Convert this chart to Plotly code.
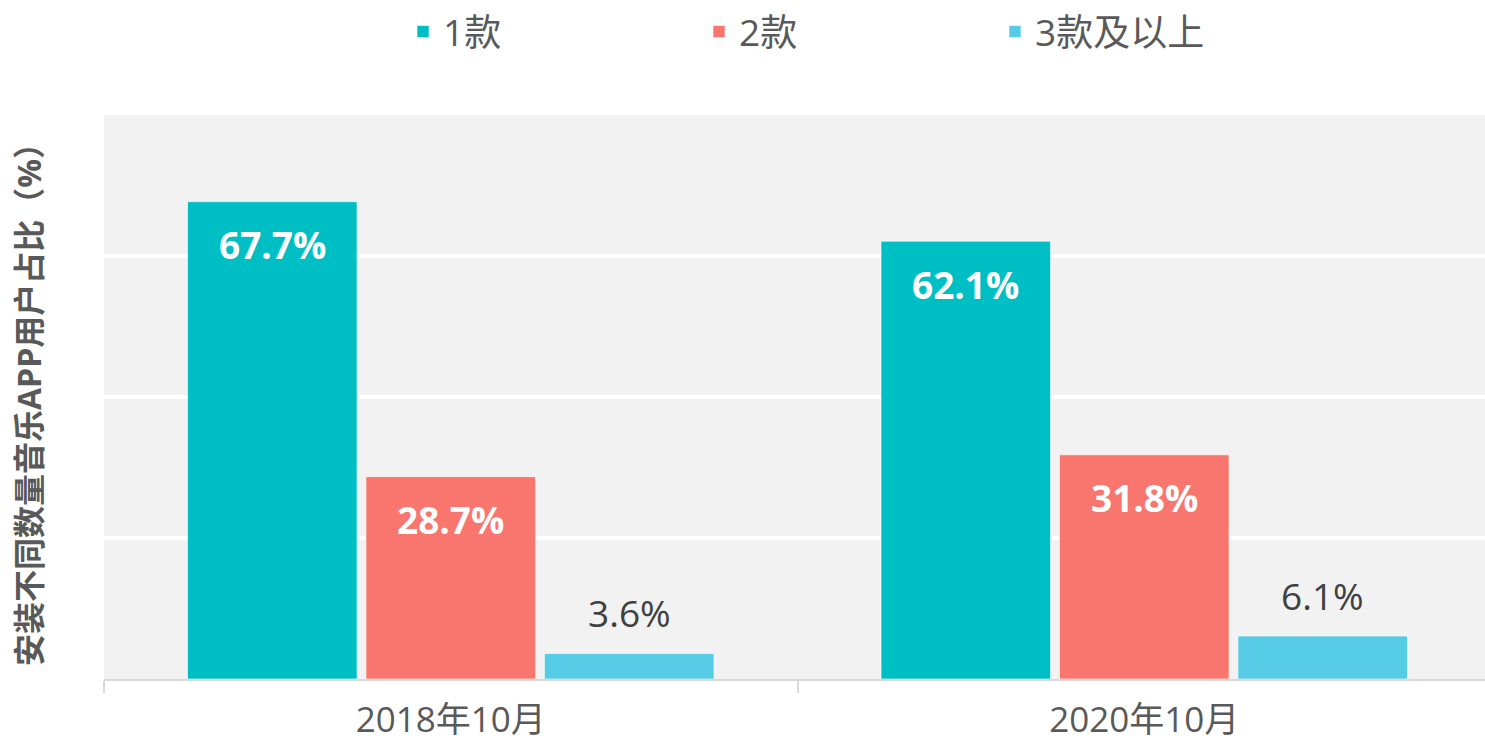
import plotly.graph_objects as go

categories = ["2018年10月", "2020年10月"]
series_names = ["1款", "2款", "3款及以上"]
values_1 = [67.7, 62.1]
values_2 = [28.7, 31.8]
values_3 = [3.6, 6.1]
series_values = [values_1, values_2, values_3]
colors = ["#00BFC4", "#F8766D", "#56CBE6"]

W, H = 1491, 747
ML, MR, MT, MB = 104, 0, 115, 68
BARGAP = 0.228
BARGROUPGAP = 0.05
FONT = "Open Sans, Noto Sans CJK SC, sans-serif"

fig = go.Figure()
for name, vals, col in zip(series_names, series_values, colors):
    fig.add_trace(go.Bar(
        x=categories, y=vals, name=name,
        marker=dict(color=col, line=dict(color="rgba(255,255,255,0.6)", width=1)),
        textposition="none",
    ))

plot_w = W - ML - MR
cat_w = plot_w / len(categories)
slot = cat_w * (1 - BARGAP) / len(series_names)

annotations = []
for i, vals in enumerate(series_values):
    for cat, v in zip(categories, vals):
        inside = v > 10
        annotations.append(dict(
            x=cat, y=v, xref="x", yref="y",
            xshift=(i - (len(series_names) - 1) / 2) * slot,
            yshift=-43 if inside else 41,
            text=f"{v:.1f}%", showarrow=False,
            yanchor="middle", xanchor="center",
            font=dict(family=FONT, size=37,
                      color="white" if inside else "#404040",
                      weight="bold" if inside else "normal"),
        ))

annotations.append(dict(
    x=(28 - ML) / plot_w, xref="paper", y=0.5, yref="paper",
    text="<b>安装不同数量音乐APP用户占比（%）</b>", showarrow=False,
    textangle=-90, font=dict(family=FONT, size=32, color="#595959"),
    xanchor="center", yanchor="middle",
))

fig.update_layout(
    width=W, height=H,
    margin=dict(l=ML, r=MR, t=MT, b=MB, autoexpand=False),
    paper_bgcolor="white",
    plot_bgcolor="#F2F2F2",
    barmode="group", bargap=BARGAP, bargroupgap=BARGROUPGAP,
    font=dict(family=FONT, color="#595959"),
    showlegend=True,
    legend=dict(
        orientation="h", xref="container", yref="container",
        x=403 / W, xanchor="left", y=1 - 32 / H, yanchor="middle",
        font=dict(family=FONT, size=37, color="#595959"),
        entrywidth=251, entrywidthmode="pixels",
        bgcolor="rgba(0,0,0,0)",
    ),
    annotations=annotations,
)
fig.update_xaxes(
    automargin=False,
    showline=True, linecolor="#D9D9D9", linewidth=1.5,
    ticks="outside", tickson="boundaries", ticklen=12, tickcolor="#D9D9D9",
    tickwidth=1.5, ticklabelstandoff=9,
    tickfont=dict(family=FONT, size=35, color="#595959"),
    showgrid=False,
)
fig.update_yaxes(
    automargin=False,
    range=[0, 80], dtick=20, showticklabels=False,
    showgrid=True, gridcolor="white", gridwidth=4,
    zeroline=False, showline=False, ticks="",
)

fig.write_html(
    "out.html",
    config={"responsive": False, "displayModeBar": False},
    post_script="document.body.style.margin='0';document.body.style.overflow='hidden';"
                "Plotly.Plots.resize(document.getElementById('{plot_id}'));",
)
